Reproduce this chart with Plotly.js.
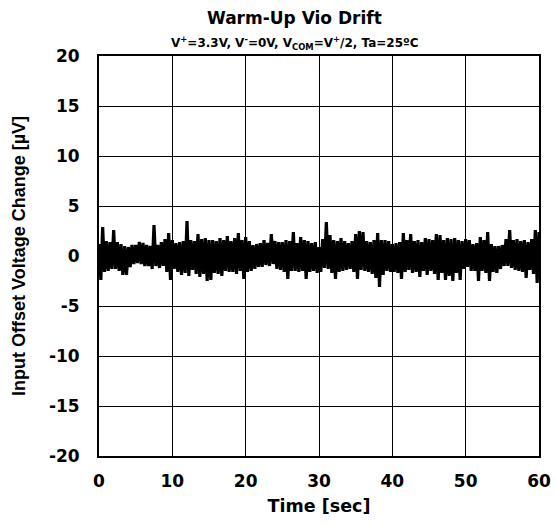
<!DOCTYPE html>
<html>
<head>
<meta charset="utf-8">
<script src="https://cdn.plot.ly/plotly-3.0.1.min.js"></script>
<style>
html,body{margin:0;padding:0;background:#fff;}
#chart{width:556px;height:526px;}
</style>
</head>
<body>
<div id="chart"></div>
<script>
// Sample spacing (seconds) of the read-off envelope values
const sampleStep = 0.5;
// Upper excursions of the noise trace, one every 0.5 s from t = 0 s to 60 s (µV)
const highValues = [
  1.2, 2.9, 1.5, 1.4, 2.6, 1.4, 1.2, 1.0, 0.9, 1.1,
  1.1, 1.4, 1.3, 1.1, 1.0, 3.1, 1.1, 1.4, 1.7, 2.3,
  1.6, 1.3, 1.4, 1.5, 3.5, 1.6, 1.5, 2.2, 1.7, 1.8,
  1.6, 1.6, 1.5, 1.8, 1.6, 2.0, 1.5, 1.8, 2.3, 1.6,
  1.9, 1.5, 1.1, 1.2, 1.3, 1.6, 1.3, 2.2, 1.5, 1.4,
  1.4, 1.6, 1.5, 2.4, 1.3, 1.9, 1.6, 1.5, 1.3, 1.4,
  0.9, 1.7, 3.4, 2.1, 1.6, 1.5, 1.8, 1.5, 1.3, 1.5,
  2.2, 2.5, 2.4, 1.5, 1.4, 1.6, 2.3, 1.6, 1.6, 1.5,
  1.2, 1.3, 1.4, 2.3, 1.6, 2.2, 1.5, 1.6, 1.4, 1.8,
  1.7, 1.6, 2.2, 2.1, 1.6, 1.8, 1.7, 1.8, 1.6, 1.5,
  1.7, 1.6, 1.2, 1.3, 1.9, 1.6, 2.4, 1.2, 1.0, 1.0,
  1.1, 1.7, 2.6, 1.6, 1.7, 1.5, 1.6, 1.4, 1.7, 2.6,
  2.4
];
// Lower excursions, one every 0.5 s starting at t = 0.25 s (µV)
const lowValues = [
  -2.4, -1.6, -1.5, -1.3, -1.3, -1.5, -1.9, -1.9, -1.1, -0.8,
  -0.7, -0.8, -1.0, -1.0, -1.3, -1.0, -1.2, -1.0, -1.6, -2.4,
  -1.3, -1.6, -1.9, -1.7, -2.0, -1.4, -1.8, -2.1, -1.8, -2.5,
  -2.4, -1.7, -1.8, -2.0, -1.5, -1.6, -1.6, -1.8, -1.5, -2.3,
  -1.6, -1.5, -1.3, -1.1, -1.1, -0.9, -1.0, -0.8, -1.3, -1.4,
  -1.6, -2.3, -1.5, -1.5, -1.6, -1.5, -2.3, -1.6, -1.5, -1.7,
  -1.6, -1.2, -1.3, -1.7, -2.3, -1.6, -1.5, -1.4, -1.3, -1.6,
  -2.3, -1.4, -1.5, -1.6, -1.8, -2.2, -3.1, -1.9, -1.5, -1.6,
  -1.6, -1.7, -2.3, -1.6, -1.4, -1.7, -1.6, -2.1, -1.5, -1.9,
  -1.5, -1.8, -2.4, -1.7, -2.4, -2.0, -2.5, -1.7, -2.4, -1.3,
  -1.1, -1.5, -1.5, -2.5, -1.5, -1.7, -2.5, -1.6, -1.7, -1.3,
  -1.0, -1.0, -1.2, -1.4, -1.5, -1.6, -2.2, -1.4, -1.8, -2.7
];
const xTicks = [0, 10, 20, 30, 40, 50, 60];
const yTicks = [-20, -15, -10, -5, 0, 5, 10, 15, 20];

// Interleave the upper and lower readings into one trace
const timeSec = [];
const vioChange = [];
for (let k = 0; k < highValues.length; k++) {
  timeSec.push(k * sampleStep);
  vioChange.push(highValues[k]);
  if (k < lowValues.length) {
    timeSec.push(k * sampleStep + sampleStep / 2);
    vioChange.push(lowValues[k]);
  }
}

const WIDE = 'DejaVu Sans, Verdana, sans-serif';
const NARROW = 'Liberation Sans, Arial, Helvetica, sans-serif';

const trace = {
  x: timeSec,
  y: vioChange,
  type: 'scatter',
  mode: 'lines',
  line: {color: '#000000', width: 3.2},
  hoverinfo: 'skip',
  showlegend: false
};

const axisCommon = {
  showgrid: true,
  gridcolor: '#000000',
  gridwidth: 1,
  showline: true,
  linecolor: '#000000',
  linewidth: 2,
  mirror: true,
  zeroline: false,
  ticks: '',
  tickfont: {family: WIDE, size: 17, color: '#000000', weight: 'bold'},
  fixedrange: true
};

const layout = {
  width: 556,
  height: 526,
  paper_bgcolor: '#ffffff',
  plot_bgcolor: '#ffffff',
  margin: {l: 99, r: 17, t: 56, b: 70, autoexpand: false},
  font: {family: WIDE, color: '#000000'},
  xaxis: Object.assign({}, axisCommon, {
    range: [0, 60],
    tickvals: xTicks,
    ticktext: xTicks.map(String),
    ticklabelstandoff: 9,
    title: {text: 'Time [sec]', font: {family: WIDE, size: 17.5, color: '#000000', weight: 'bold'}, standoff: 9}
  }),
  yaxis: Object.assign({}, axisCommon, {
    range: [-20, 20],
    tickvals: yTicks,
    ticktext: yTicks.map(String),
    ticklabelstandoff: 14,
    title: {text: 'Input Offset Voltage Change [µV]', font: {family: NARROW, size: 18, color: '#000000', weight: 'bold'}, standoff: 19}
  }),
  annotations: [
    {
      text: 'Warm-Up Vio Drift',
      xref: 'paper', yref: 'paper',
      x: 0.445, y: 1.095,
      xanchor: 'center', yanchor: 'middle',
      showarrow: false,
      font: {family: WIDE, size: 17, color: '#000000', weight: 'bold'}
    },
    {
      text: 'V<sup>+</sup>=3.3V, V<sup>-</sup>=0V, V<sub>COM</sub>=V<sup>+</sup>/2, Ta=25ºC',
      xref: 'paper', yref: 'paper',
      x: 0.445, y: 1.0325,
      xanchor: 'center', yanchor: 'middle',
      showarrow: false,
      font: {family: WIDE, size: 12, color: '#000000', weight: 'bold'}
    }
  ]
};

Plotly.newPlot('chart', [trace], layout, {staticPlot: true, displayModeBar: false});
</script>
</body>
</html>
